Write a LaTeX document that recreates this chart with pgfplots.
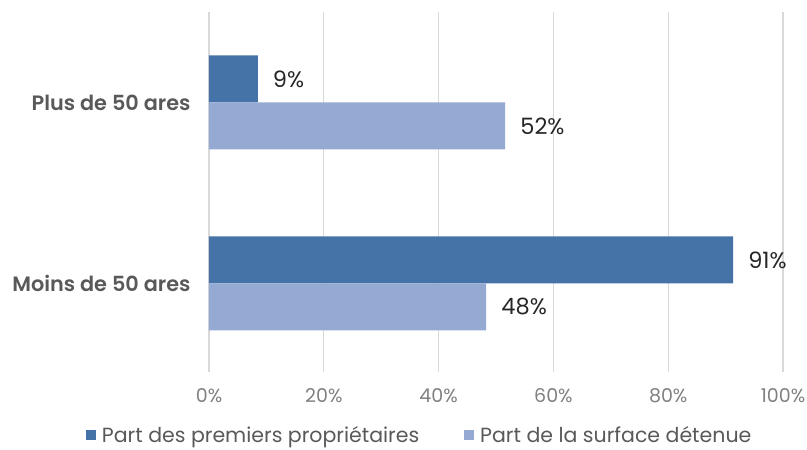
\documentclass[border=0pt]{standalone}
\usepackage{fontspec}
\setmainfont{Poppins}
\newfontfamily\semib{Poppins SemiBold}
\usepackage{pgfplots}
\pgfplotsset{compat=1.18}

\definecolor{darkbar}{HTML}{4573A7}
\definecolor{lightbar}{HTML}{95AAD2}
\definecolor{gridgray}{HTML}{D9D9D9}
\definecolor{ticktext}{HTML}{808080}
\definecolor{cattext}{HTML}{595959}
\definecolor{valtext}{HTML}{262626}

\begin{document}
\begin{tikzpicture}
  \begin{axis}[
    name=ax,
    scale only axis,
    width=574bp, height=360bp,
    xbar, bar width=47bp,
    xmin=0, xmax=100,
    ymin=-0.49, ymax=1.5,
    xtick={0,20,...,100},
    xticklabel={\pgfmathprintnumber{\tick}\%},
    /pgf/number format/assume math mode=true,
    ytick={0,1},
    yticklabels={Moins de 50 ares, Plus de 50 ares},
    yticklabel style={font=\fontsize{20.8bp}{22bp}\semib, text=cattext, xshift=-15bp},
    xticklabel style={font=\fontsize{19bp}{22bp}\selectfont, text=ticktext, yshift=-13bp},
    major tick length=0pt,
    axis line style={draw=none},
    xmajorgrids=true,
    grid style={gridgray, line width=1.2bp},
    point meta=explicit symbolic,
    nodes near coords,
    nodes near coords style={font=\fontsize{22.5bp}{24bp}\selectfont, text=valtext, anchor=west, inner sep=0pt, xshift=15bp},
    legend style={at={(0.367,-0.176)}, anchor=center, draw=none, fill=none,
      legend columns=2, font=\fontsize{20.5bp}{22bp}\selectfont, text=cattext,
      /tikz/every even column/.append style={column sep=43bp}},
    legend image code/.code={\fill[#1] (0bp,-5bp) rectangle (10bp,5bp);},
    legend cell align=left,
  ]
    \addplot[draw=none, fill=darkbar, bar shift=23.5bp] coordinates {(91.3,0) [91\%] (8.5,1) [9\%]};
    \addplot[draw=none, fill=lightbar, bar shift=-23.5bp] coordinates {(48.3,0) [48\%] (51.6,1) [52\%]};
    \legend{\hspace{4bp}Part des premiers propriétaires, \hspace{4bp}Part de la surface détenue}
  \end{axis}
  \pgfresetboundingbox
  \path (ax.south west) ++(-209bp,-78bp) rectangle ++(807bp,450bp);
\end{tikzpicture}
\end{document}
